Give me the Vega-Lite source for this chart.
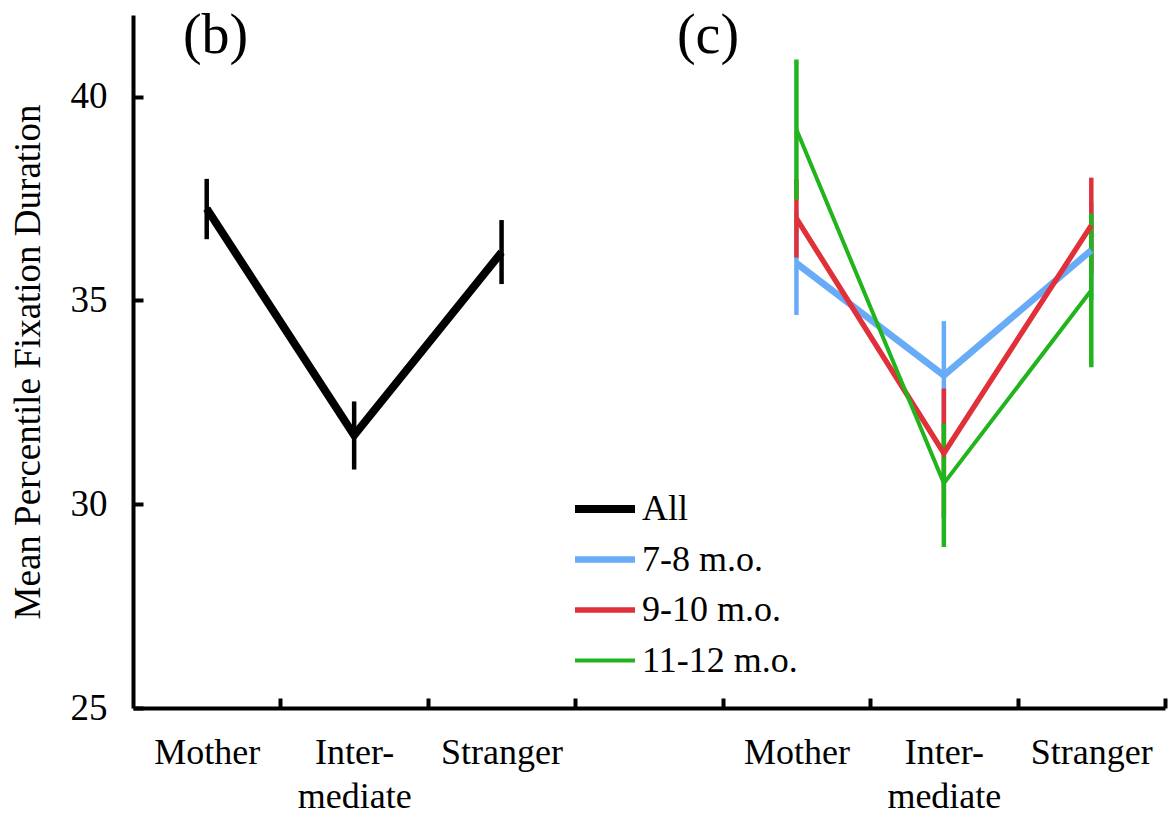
{
  "$schema": "https://vega.github.io/schema/vega-lite/v6.json",
  "width": 1032,
  "height": 693,
  "autosize": {"type": "none"},
  "padding": {"left": 133, "top": 15, "right": 4, "bottom": 120},
  "config": {
    "view": {"stroke": null},
    "font": "Liberation Serif",
    "axis": {"domainColor": "black", "domainWidth": 4, "tickColor": "black", "tickWidth": 4, "labelColor": "black", "titleColor": "black", "grid": false, "labelFont": "Liberation Serif", "titleFont": "Liberation Serif"}
  },
  "datasets": {
    "stats": [
      {"group": "All", "cond": "Mother", "pos": 0.5, "mean": 37.25, "lo": 36.5, "hi": 37.98},
      {"group": "All", "cond": "Intermediate", "pos": 1.5, "mean": 31.69, "lo": 30.85, "hi": 32.52},
      {"group": "All", "cond": "Stranger", "pos": 2.5, "mean": 36.18, "lo": 35.4, "hi": 36.97},
      {"group": "7-8 m.o.", "cond": "Mother", "pos": 4.5, "mean": 35.91, "lo": 34.64, "hi": 37.18},
      {"group": "7-8 m.o.", "cond": "Intermediate", "pos": 5.5, "mean": 33.16, "lo": 31.84, "hi": 34.49},
      {"group": "7-8 m.o.", "cond": "Stranger", "pos": 6.5, "mean": 36.23, "lo": 35.0, "hi": 37.4},
      {"group": "9-10 m.o.", "cond": "Mother", "pos": 4.5, "mean": 37.01, "lo": 36.05, "hi": 37.97},
      {"group": "9-10 m.o.", "cond": "Intermediate", "pos": 5.5, "mean": 31.25, "lo": 29.66, "hi": 32.84},
      {"group": "9-10 m.o.", "cond": "Stranger", "pos": 6.5, "mean": 36.84, "lo": 35.66, "hi": 38.01},
      {"group": "11-12 m.o.", "cond": "Mother", "pos": 4.5, "mean": 39.19, "lo": 37.47, "hi": 40.91},
      {"group": "11-12 m.o.", "cond": "Intermediate", "pos": 5.5, "mean": 30.51, "lo": 28.95, "hi": 31.98},
      {"group": "11-12 m.o.", "cond": "Stranger", "pos": 6.5, "mean": 35.25, "lo": 33.36, "hi": 37.13}
    ],
    "panels": [
      {"label": "(b)", "pos": 0.56, "mean": 41.48},
      {"label": "(c)", "pos": 3.9, "mean": 41.48}
    ]
  },
  "layer": [
    {
      "data": {"name": "stats"},
      "mark": {"type": "rule", "strokeCap": "butt", "strokeWidth": 4.5},
      "encoding": {
        "x": {
          "field": "pos", "type": "quantitative",
          "scale": {"domain": [0, 7], "nice": false, "zero": false},
          "axis": {
            "title": null,
            "values": [0.5, 1, 1.5, 2, 2.5, 3, 4, 4.5, 5, 5.5, 6, 6.5, 7],
            "labelExpr": "datum.value == 0.5 || datum.value == 4.5 ? 'Mother' : (datum.value == 1.5 || datum.value == 5.5 ? ['Inter-', 'mediate'] : (datum.value == 2.5 || datum.value == 6.5 ? 'Stranger' : ''))",
            "tickOpacity": {"condition": {"test": "datum.value % 1 == 0", "value": 1}, "value": 0},
            "tickSize": -10,
            "labelFontSize": 36,
            "labelPadding": 37,
            "labelLineHeight": 44,
            "labelBaseline": "top",
            "labelFlush": false,
            "labelOverlap": false
          }
        },
        "y": {
          "field": "lo", "type": "quantitative",
          "scale": {"domain": [25, 42], "nice": false, "zero": false},
          "axis": {
            "title": "Mean Percentile Fixation Duration",
            "values": [25, 30, 35, 40],
            "tickSize": -10,
            "labelFontSize": 37,
            "labelPadding": 36,
            "titleFontSize": 37,
            "titleFontWeight": "normal",
            "titlePadding": 23
          }
        },
        "y2": {"field": "hi"},
        "color": {
          "field": "group", "type": "nominal",
          "scale": {"domain": ["All", "7-8 m.o.", "9-10 m.o.", "11-12 m.o."], "range": ["#000000", "#68abf7", "#e0313a", "#22b41c"]},
          "legend": {"title": null, "orient": "none", "legendX": 454, "legendY": 476, "symbolType": "M-3,0H3", "symbolSize": 400, "labelFontSize": 36, "labelFont": "Liberation Serif", "labelColor": "black", "labelOffset": 19, "rowPadding": 14.5, "labelLimit": 400}
        }
      }
    },
    {
      "data": {"name": "stats"},
      "mark": {"type": "line", "strokeCap": "butt"},
      "encoding": {
        "x": {"field": "pos", "type": "quantitative"},
        "y": {"field": "mean", "type": "quantitative"},
        "color": {
          "field": "group", "type": "nominal",
          "legend": {"title": null, "orient": "none", "legendX": 454, "legendY": 476, "symbolType": "M-3,0H3", "symbolSize": 400, "labelFontSize": 36, "labelFont": "Liberation Serif", "labelColor": "black", "labelOffset": 19, "rowPadding": 14.5, "labelLimit": 400}
        },
        "strokeWidth": {
          "field": "group", "type": "nominal",
          "scale": {"domain": ["All", "7-8 m.o.", "9-10 m.o.", "11-12 m.o."], "range": [8, 4, 4, 4]},
          "legend": {"title": null, "orient": "none", "legendX": 454, "legendY": 476, "symbolType": "M-3,0H3", "symbolSize": 400, "labelFontSize": 36, "labelFont": "Liberation Serif", "labelColor": "black", "labelOffset": 19, "rowPadding": 14.5, "labelLimit": 400}
        }
      }
    },
    {
      "data": {"name": "panels"},
      "mark": {"type": "text", "fontSize": 56, "font": "Liberation Serif", "baseline": "middle", "align": "center", "color": "black"},
      "encoding": {
        "x": {"field": "pos", "type": "quantitative"},
        "y": {"field": "mean", "type": "quantitative"},
        "text": {"field": "label"}
      }
    }
  ]
}
